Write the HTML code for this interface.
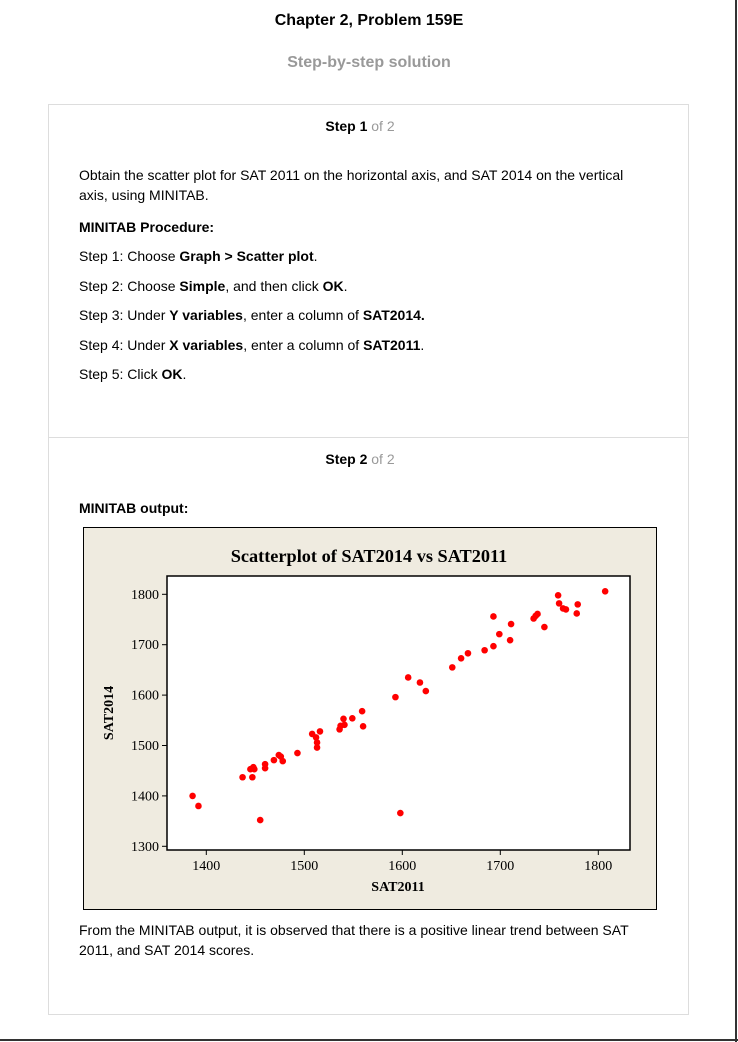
<!DOCTYPE html>
<html><head><meta charset="utf-8"><style>
body{margin:0;width:738px;height:1042px;background:#fff;font-family:"Liberation Sans",Arial,sans-serif;position:relative;overflow:hidden;color:#000}
.abs{position:absolute}
p{margin:0}
.t{position:absolute;left:79px;font-size:14px;line-height:20px}
</style></head><body>
<div class="abs" style="left:735px;top:0;width:2px;height:1042px;background:#333"></div>
<div class="abs" style="left:0;top:1039px;width:738px;height:2px;background:#333"></div>
<div class="abs" style="left:0;width:738px;top:12px;text-align:center;font-weight:bold;font-size:16px">Chapter 2, Problem 159E</div>
<div class="abs" style="left:0;width:738px;top:54px;text-align:center;font-weight:bold;font-size:16px;color:#999">Step-by-step solution</div>
<div class="abs" style="left:48px;top:104px;width:639px;height:909px;border:1px solid #ddd"></div>
<div class="abs" style="left:49px;top:437px;width:639px;height:1px;background:#ddd"></div>
<div class="abs" style="left:40px;width:640px;top:118px;text-align:center;font-size:14px"><b>Step 1</b> <span style="color:#999">of 2</span></div>
<div class="t" style="top:165px;width:570px">Obtain the scatter plot for SAT 2011 on the horizontal axis, and SAT 2014 on the vertical axis, using MINITAB.</div>
<div class="t" style="top:217px"><b>MINITAB Procedure:</b></div>
<div class="t" style="top:246px">Step 1: Choose <b>Graph &gt; Scatter plot</b>.</div>
<div class="t" style="top:276px">Step 2: Choose <b>Simple</b>, and then click <b>OK</b>.</div>
<div class="t" style="top:305px">Step 3: Under <b>Y variables</b>, enter a column of <b>SAT2014.</b></div>
<div class="t" style="top:335px">Step 4: Under <b>X variables</b>, enter a column of <b>SAT2011</b>.</div>
<div class="t" style="top:364px">Step 5: Click <b>OK</b>.</div>
<div class="abs" style="left:40px;width:640px;top:451px;text-align:center;font-size:14px"><b>Step 2</b> <span style="color:#999">of 2</span></div>
<div class="t" style="top:498px"><b>MINITAB output:</b></div>
<svg class="abs" style="left:83px;top:527px" width="575" height="384">
<rect x="0.5" y="0.5" width="573" height="382" fill="#efebe0" stroke="#000"/>
<text x="286" y="35" text-anchor="middle" font-family="Liberation Serif,serif" font-weight="bold" font-size="18.3">Scatterplot of SAT2014 vs SAT2011</text>
<rect x="84" y="49" width="463" height="274" fill="#fff" stroke="#000" stroke-width="1.5"/>
<g id="ax"></g><g id="pts"></g>
<text x="315" y="364" text-anchor="middle" font-family="Liberation Serif,serif" font-weight="bold" font-size="14">SAT2011</text>
<text transform="translate(30,186) rotate(-90)" text-anchor="middle" font-family="Liberation Serif,serif" font-weight="bold" font-size="14">SAT2014</text>
</svg>
<div class="t" style="top:920px;width:570px">From the MINITAB output, it is observed that there is a positive linear trend between SAT 2011, and SAT 2014 scores.</div>
<script>
const sat2011=[1386,1392,1455,1437,1447,1445,1448,1449,1460,1460,1469,1474,1476,1478,1493,1508,1512,1513,1513,1516,1536,1537,1541,1540,1549,1559,1560,1593,1598,1606,1618,1624,1651,1660,1667,1684,1693,1693,1699,1710,1711,1734,1736,1738,1745,1759,1760,1764,1767,1778,1779,1807];
const sat2014=[1400,1380,1352,1437,1437,1453,1457,1453,1463,1455,1471,1481,1478,1469,1485,1523,1516,1506,1496,1528,1532,1539,1541,1553,1554,1568,1538,1596,1366,1635,1625,1608,1655,1673,1683,1689,1697,1756,1721,1709,1741,1752,1757,1761,1735,1798,1782,1772,1770,1762,1780,1806];
const xTicks=[1400,1500,1600,1700,1800];
const yTicks=[1300,1400,1500,1600,1700,1800];
const NS='http://www.w3.org/2000/svg';
function sx(v){return 123.3+(v-1400)*0.98;}
function sy(v){return 67.3+(1800-v)*0.504;}
const ax=document.getElementById('ax'),pts=document.getElementById('pts');
function mk(t,a,p){const e=document.createElementNS(NS,t);for(const k in a)e.setAttribute(k,a[k]);p.appendChild(e);return e;}
xTicks.forEach(v=>{
 const l=mk('line',{x1:sx(v),x2:sx(v),y1:323,y2:328,stroke:'#000'},ax);
 
 
 const t=mk('text',{x:sx(v),y:343,'text-anchor':'middle','font-family':'Liberation Serif,serif','font-size':'14'},ax);
 t.textContent=v;
 
 
});
yTicks.forEach(v=>{
 const l=mk('line',{x1:79,x2:84,y1:sy(v),y2:sy(v),stroke:'#000'},ax);
 
 
 const t=mk('text',{x:76,y:sy(v)+4.5,'text-anchor':'end','font-family':'Liberation Serif,serif','font-size':'14'},ax);
 t.textContent=v;
 
 
});
sat2011.forEach((v,i)=>{
 const c=mk('circle',{cx:sx(v),cy:sy(sat2014[i]),r:3.3,fill:'#f00'},pts);
 
 
});
</script>
</body></html>
